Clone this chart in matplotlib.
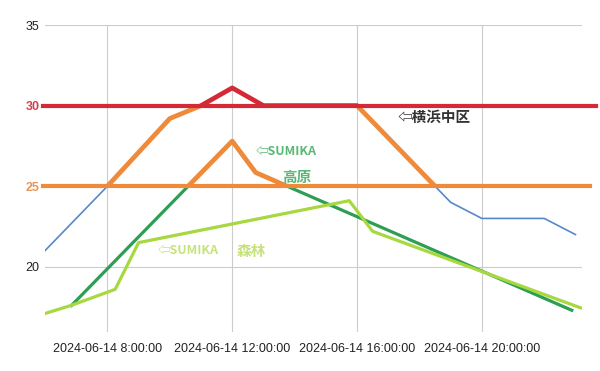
import pandas as pd
import numpy as np
import matplotlib
matplotlib.use("Agg")
import matplotlib.pyplot as plt
import matplotlib.dates as mdates
from matplotlib.patches import Rectangle
from matplotlib.transforms import blended_transform_factory

plt.rcParams['font.family'] = ['Liberation Sans', 'DejaVu Sans']
CJK = ['Noto Sans CJK JP', 'DejaVu Sans']

day = "2024-06-14 "

# 横浜中区 (hourly)
yokohama_times = ["06:00", "07:00", "08:00", "09:00", "10:00", "11:00", "12:00", "13:00", "14:00",
                  "15:00", "16:00", "17:00", "18:00", "19:00", "20:00", "21:00", "22:00", "23:00"]
yokohama_vals = [21, 23, 25, 27.1, 29.2, 30, 31.1, 30, 30, 30, 30, 28, 26, 24, 23, 23, 23, 22]

# SUMIKA 高原
kogen_times = ["06:51", "12:00", "12:45", "22:53"]
kogen_vals = [17.6, 27.8, 25.85, 17.3]

# SUMIKA 森林
shinrin_times = ["06:00", "06:50", "08:15", "09:00", "15:45", "16:30", "23:10"]
shinrin_vals = [17.1, 17.6, 18.6, 21.5, 24.1, 22.2, 17.45]

hot_level = 30
warm_level = 25
y_ticks = [20, 25, 30, 35]
x_ticks = ["08:00", "12:00", "16:00", "20:00"]


def to_dt(times):
    return pd.to_datetime([day + t for t in times])


fig = plt.figure(figsize=(6, 3.71), dpi=100)
ax = fig.add_axes([0.075, 0.105, 0.8945, 0.8275])

blue = '#5588cc'
red = '#d42a37'
orange = '#ef8a3a'
dgreen = '#2e9e52'
lgreen = '#a8d840'

ax.plot(to_dt(yokohama_times), yokohama_vals, color=blue, lw=1.2, zorder=3)
ax.plot(to_dt(kogen_times), kogen_vals, color=dgreen, lw=2.3, zorder=3)
ax.plot(to_dt(shinrin_times), shinrin_vals, color=lgreen, lw=2.3, zorder=4)

ax.set_xlim(pd.Timestamp(day + "06:00"), pd.Timestamp(day + "23:12"))
ax.set_ylim(15.95, 35)

# highlighted parts above thresholds
band = blended_transform_factory(ax.transAxes, ax.transData)
warm_clip = Rectangle((0, warm_level), 1, hot_level - warm_level, transform=band)
hot_clip = Rectangle((0, hot_level), 1, 10, transform=band)
for t, v in [(yokohama_times, yokohama_vals), (kogen_times, kogen_vals)]:
    ln, = ax.plot(to_dt(t), v, color=orange, lw=3.4, zorder=5, solid_capstyle='butt')
    ln.set_clip_path(warm_clip)
ln, = ax.plot(to_dt(yokohama_times), yokohama_vals, color=red, lw=3.4, zorder=7)
ln.set_clip_path(hot_clip)

ax.axhline(warm_level, xmin=-0.004, xmax=1.015, color=orange, lw=3.0, zorder=6, clip_on=False)
ax.axhline(hot_level, xmin=-0.004, xmax=1.026, color=red, lw=3.0, zorder=7, clip_on=False)

ax.set_yticks(y_ticks)
ax.set_xticks(to_dt(x_ticks))
ax.xaxis.set_major_formatter(mdates.DateFormatter('%Y-%m-%d %-H:%M:%S'))
ax.grid(True, color='#cccccc', lw=0.8, zorder=0)
ax.tick_params(length=0, labelsize=9, colors='#222222')
ax.tick_params(axis='x', pad=8)
ax.tick_params(axis='y', pad=4)
for s in ax.spines.values():
    s.set_visible(False)

for lab in ax.get_yticklabels():
    if lab.get_text() == str(hot_level):
        lab.set_color('#d0414f'); lab.set_fontweight('bold')
    elif lab.get_text() == str(warm_level):
        lab.set_color('#ea9558'); lab.set_fontweight('bold')

ax.text(pd.Timestamp(day + "17:18"), 29.3, "⇦横浜中区", family=CJK, fontsize=10.5,
        fontweight='bold', color='#333333', va='center', zorder=8)
ax.text(pd.Timestamp(day + "12:44"), 27.15, "⇦SUMIKA", family=CJK, fontsize=9,
        fontweight='bold', color='#58b874', va='center', zorder=8)
ax.text(pd.Timestamp(day + "13:36"), 25.6, "高原", family=CJK, fontsize=10.5,
        fontweight='bold', color='#58b874', va='center', zorder=8)
ax.text(pd.Timestamp(day + "09:36"), 21.0, "⇦SUMIKA", family=CJK, fontsize=9,
        fontweight='bold', color='#c6e27a', va='center', zorder=8)
ax.text(pd.Timestamp(day + "12:08"), 21.0, "森林", family=CJK, fontsize=10.5,
        fontweight='bold', color='#c6e27a', va='center', zorder=8)

fig.savefig("out.png", dpi=100)
